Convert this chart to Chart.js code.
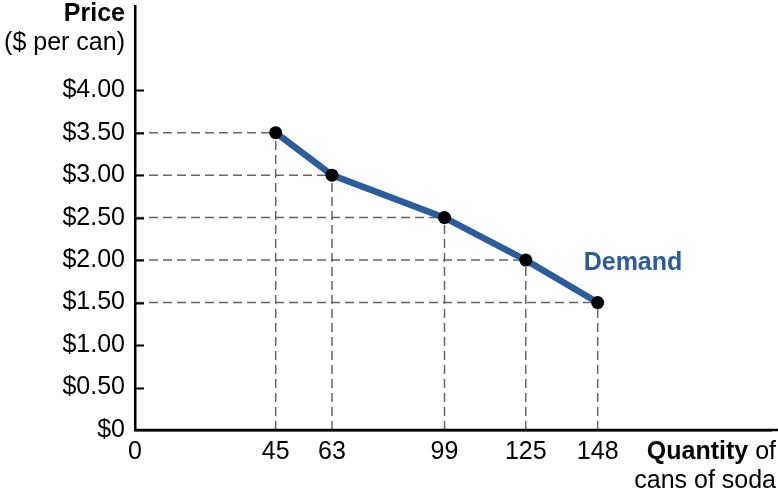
<!DOCTYPE html>
<html>
<head>
<meta charset="utf-8">
<script src="https://cdn.jsdelivr.net/npm/chart.js@4/dist/chart.umd.min.js"></script>
<style>
html,body{margin:0;padding:0;background:#fff;}
canvas{display:block;}
</style>
</head>
<body>
<canvas id="c" width="778" height="496"></canvas>
<script>
const quantities = [45, 63, 99, 125, 148];
const prices = [3.5, 3.0, 2.5, 2.0, 1.5];
const xTickValues = [0, 45, 63, 99, 125, 148];
const yTickValues = [0, 0.5, 1.0, 1.5, 2.0, 2.5, 3.0, 3.5, 4.0];
const seriesLabel = 'Demand';

const FONT = '"Liberation Sans", Arial, Helvetica, sans-serif';
const BLUE = '#2b5c9b';
const FS = 25;

const guides = {
  id: 'guides',
  beforeDatasetsDraw(chart) {
    const ctx = chart.ctx, xs = chart.scales.x, ys = chart.scales.y;
    ctx.save();
    ctx.strokeStyle = '#666';
    ctx.lineWidth = 1.5;
    ctx.setLineDash([9, 5]);
    for (let i = 0; i < quantities.length; i++) {
      const px = xs.getPixelForValue(quantities[i]);
      const py = ys.getPixelForValue(prices[i]);
      ctx.beginPath();
      ctx.moveTo(xs.left, py); ctx.lineTo(px, py);
      ctx.stroke();
      ctx.beginPath();
      ctx.moveTo(px, ys.bottom); ctx.lineTo(px, py);
      ctx.stroke();
    }
    ctx.restore();
  },
  afterDraw(chart) {
    const ctx = chart.ctx, xs = chart.scales.x, ys = chart.scales.y;
    ctx.save();
    ctx.strokeStyle = '#000';
    ctx.lineWidth = 2;
    yTickValues.forEach(v => {
      if (v === 0) return;
      const py = Math.round(ys.getPixelForValue(v)) + 0.5;
      ctx.beginPath();
      ctx.moveTo(xs.left, py); ctx.lineTo(xs.left + 9, py);
      ctx.stroke();
    });
    // extend x-axis line to the canvas edge
    ctx.lineWidth = 2.5;
    ctx.beginPath();
    ctx.moveTo(xs.left, ys.bottom); ctx.lineTo(chart.width, ys.bottom);
    ctx.stroke();
    ctx.fillStyle = '#000';
    ctx.textAlign = 'right';
    ctx.textBaseline = 'middle';
    ctx.font = 'bold ' + FS + 'px ' + FONT;
    ctx.fillText('Price', 125, 14);
    ctx.font = FS + 'px ' + FONT;
    ctx.fillText('($ per can)', 125, 43);
    ctx.font = FS + 'px ' + FONT;
    const ofW = ctx.measureText(' of').width;
    ctx.fillText(' of', 776, 452);
    ctx.font = 'bold ' + FS + 'px ' + FONT;
    ctx.fillText('Quantity', 776 - ofW, 452);
    ctx.font = FS + 'px ' + FONT;
    ctx.fillText('cans of soda', 776, 481);
    ctx.fillStyle = BLUE;
    ctx.textAlign = 'center';
    ctx.font = 'bold ' + FS + 'px ' + FONT;
    ctx.fillText(seriesLabel, 633, 263);
    ctx.restore();
  }
};

new Chart(document.getElementById('c'), {
  type: 'scatter',
  data: {
    datasets: [{
      label: seriesLabel,
      data: quantities.map((q, i) => ({x: q, y: prices[i]})),
      showLine: true,
      borderColor: BLUE,
      borderWidth: 6.5,
      pointRadius: 6.5,
      pointHoverRadius: 6.5,
      pointBackgroundColor: '#000',
      pointBorderColor: '#000',
      pointBorderWidth: 0,
      tension: 0
    }]
  },
  options: {
    responsive: false,
    animation: false,
    events: [],
    layout: {padding: {top: 5, right: 0, left: 0, bottom: 0}},
    plugins: {legend: {display: false}, tooltip: {enabled: false}},
    scales: {
      x: {
        type: 'linear',
        min: 0, max: 203.6,
        afterBuildTicks: s => { s.ticks = xTickValues.map(v => ({value: v})); },
        afterFit: s => { s.height = 66; s.paddingLeft = 0; s.paddingRight = 0; },
        grid: {display: false, drawTicks: false},
        border: {display: true, color: '#000', width: 2.5},
        ticks: {
          color: '#000', font: {family: FONT, size: FS}, padding: 7,
          maxRotation: 0, autoSkip: false,
          callback: v => String(v)
        }
      },
      y: {
        type: 'linear',
        min: 0, max: 4.985,
        afterBuildTicks: s => { s.ticks = yTickValues.map(v => ({value: v})); },
        afterFit: s => { s.width = 135; s.paddingTop = 0; s.paddingBottom = 0; },
        grid: {display: false, drawTicks: false},
        border: {display: true, color: '#000', width: 2.5},
        ticks: {
          color: '#000', font: {family: FONT, size: FS}, padding: 10,
          autoSkip: false,
          callback: v => v === 0 ? '$0' : '$' + v.toFixed(2)
        }
      }
    }
  },
  plugins: [guides]
});
</script>
</body>
</html>
